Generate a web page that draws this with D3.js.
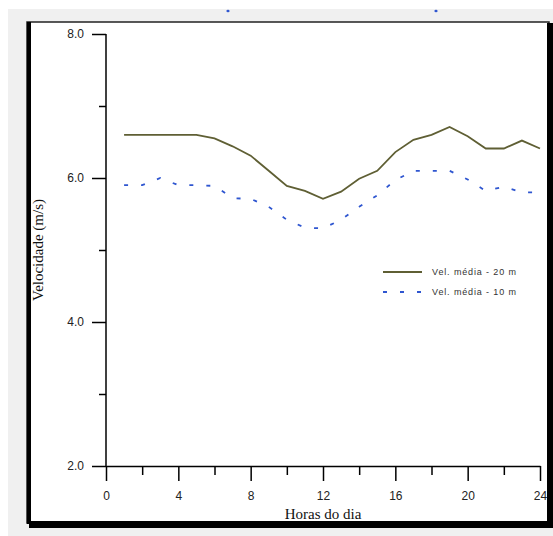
<!DOCTYPE html>
<html>
<head>
<meta charset="utf-8">
<script src="https://cdn.jsdelivr.net/npm/d3@7/dist/d3.min.js"></script>
<style>
html,body{margin:0;padding:0;background:#fff;}
svg{display:block;}
</style>
</head>
<body>
<svg id="chart" width="553" height="536"></svg>
<script>
// ---- Data ----
const hours = [1,2,3,4,5,6,7,8,9,10,11,12,13,14,15,16,17,18,19,20,21,22,23,24];
const vel20 = [6.6,6.6,6.6,6.6,6.6,6.55,6.44,6.31,6.1,5.89,5.82,5.71,5.81,5.99,6.1,6.36,6.53,6.6,6.71,6.58,6.41,6.41,6.52,6.41];
const vel10 = [5.9,5.9,6.0,5.9,5.9,5.89,5.72,5.71,5.6,5.42,5.31,5.3,5.42,5.6,5.76,5.97,6.1,6.1,6.1,5.98,5.82,5.88,5.8,5.8];
const seriesNames = ["Vel. média - 20 m", "Vel. média - 10 m"];
const xMajorTicks = [0,4,8,12,16,20,24];
const xMinorTicks = [2,6,10,14,18,22];
const yMajorTicks = [2,4,6,8];
const yMinorTicks = [3,5,7];
const xTitle = "Horas do dia";
const yTitle = "Velocidade (m/s)";

const olive = "#5f5f34";
const blue = "#2f56d0";

const svg = d3.select("#chart");

// background: white strip at top, gray panel
svg.append("rect").attr("x",0).attr("y",0).attr("width",553).attr("height",536).attr("fill","#fff");
svg.append("rect").attr("x",8).attr("y",9).attr("width",545).attr("height",527).attr("fill","#f0f0f0");

// remnants of a cropped title (tiny blue specks)
[228, 436].forEach(px => {
  svg.append("ellipse").attr("cx",px).attr("cy",11).attr("rx",1.6).attr("ry",1.2).attr("fill",blue);
});

// frame
svg.append("rect").attr("x",27).attr("y",22).attr("width",522).attr("height",501).attr("fill","#fff")
  .attr("stroke","#222").attr("stroke-width",1.5);
svg.append("rect").attr("x",27).attr("y",22).attr("width",4).attr("height",502).attr("fill","#000");
svg.append("rect").attr("x",29).attr("y",521).attr("width",524).attr("height",7).attr("fill","#000");
svg.append("rect").attr("x",547).attr("y",23).attr("width",6).attr("height",505).attr("fill","#000");

// scales
const x = d3.scaleLinear().domain([0,24]).range([106,540]);
const y = d3.scaleLinear().domain([2,8]).range([466,34]);

const tickFont = "Liberation Sans, Arial, sans-serif";

// y axis
const yAxis = svg.append("g").attr("transform","translate(106,0)")
  .call(d3.axisLeft(y).tickValues(yMajorTicks).tickSize(14).tickSizeOuter(0).tickPadding(8).tickFormat(d3.format(".1f")));
yAxis.select(".domain").remove();
svg.append("g").attr("transform","translate(106,0)")
  .call(d3.axisLeft(y).tickValues(yMinorTicks).tickSize(7).tickFormat(""))
  .select(".domain").remove();

// x axis
const xAxis = svg.append("g").attr("transform","translate(0,466)")
  .call(d3.axisBottom(x).tickValues(xMajorTicks).tickSize(15).tickSizeOuter(0).tickPadding(10));
svg.append("g").attr("transform","translate(0,466)")
  .call(d3.axisBottom(x).tickValues(xMinorTicks).tickSize(9).tickFormat(""))
  .select(".domain").remove();

// vertical axis line
svg.append("line").attr("x1",x(0)).attr("x2",x(0)).attr("y1",y(8)).attr("y2",y(2))
  .attr("stroke","#000").attr("stroke-width",1.5);

svg.selectAll(".tick line, .domain").attr("stroke","#000").attr("stroke-width",1.5);
svg.selectAll(".tick text").attr("font-family",tickFont).attr("font-size",12).attr("fill","#222");

// axis titles
svg.append("text").attr("x",(x(0)+x(24))/2).attr("y",519).attr("text-anchor","middle")
  .attr("font-family","Liberation Serif, Times New Roman, serif").attr("font-size",15).attr("fill","#111").text(xTitle);
svg.append("text").attr("transform",`translate(43,${(y(2)+y(8))/2}) rotate(-90)`).attr("text-anchor","middle")
  .attr("font-family","Liberation Serif, Times New Roman, serif").attr("font-size",15).attr("fill","#111").text(yTitle);

// lines
const lineGen = d3.line().x((d,i)=>x(hours[i])).y(d=>y(d));
svg.append("path").datum(vel20).attr("d",lineGen).attr("fill","none").attr("stroke",olive).attr("stroke-width",1.8);
svg.append("path").datum(vel10).attr("d",lineGen).attr("fill","none").attr("stroke",blue).attr("stroke-width",1.8)
  .attr("stroke-dasharray","4,13");

// legend
const leg = [{name:seriesNames[0],color:olive,dash:null,yy:272},{name:seriesNames[1],color:blue,dash:"4,13",yy:292}];
leg.forEach(l=>{
  svg.append("line").attr("x1",383).attr("x2",422).attr("y1",l.yy).attr("y2",l.yy)
    .attr("stroke",l.color).attr("stroke-width",1.8).attr("stroke-dasharray",l.dash);
  svg.append("text").attr("x",432).attr("y",l.yy+3).attr("font-family",tickFont).attr("font-size",9)
    .attr("textLength",84).attr("lengthAdjust","spacing").attr("fill","#333").text(l.name);
});
</script>
</body>
</html>
